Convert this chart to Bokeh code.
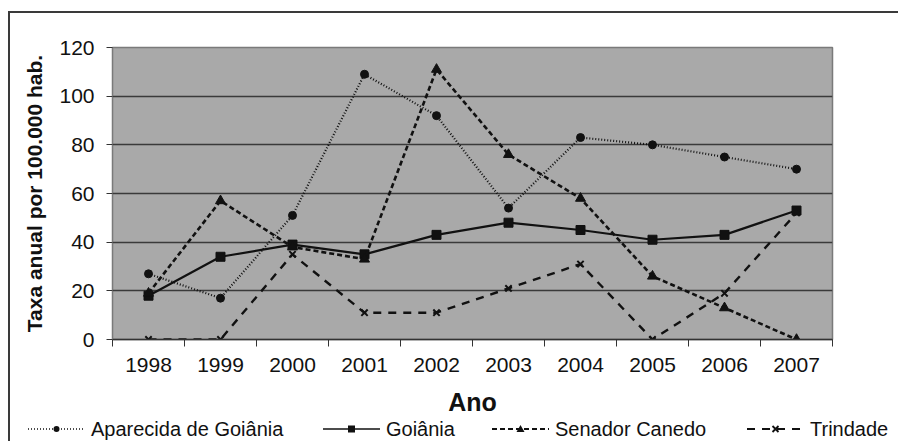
from bokeh.plotting import figure
from bokeh.layouts import column
from bokeh.models import (FactorRange, Range1d, LinearAxis, CategoricalAxis,
                          FixedTicker, Div)
from bokeh.embed import file_html
from bokeh.resources import INLINE

# Annual rate per 100,000 inhabitants, by municipality
years = ["1998", "1999", "2000", "2001", "2002", "2003", "2004", "2005", "2006", "2007"]
aparecida = [27, 17, 51, 109, 92, 54, 83, 80, 75, 70]
goiania = [18, 34, 39, 35, 43, 48, 45, 41, 43, 53]
senador = [19, 57, 38, 33, 111, 76, 58, 26, 13, 0]
trindade = [0, 0, 35, 11, 11, 21, 31, 0, 19, 52]
y_ticks = [0, 20, 40, 60, 80, 100, 120]

FONT = "Liberation Sans"
INK = "#111111"

p = figure(
    width=888, height=406,
    x_range=FactorRange(*years), y_range=Range1d(0, 120),
    x_axis_location=None,
    output_backend="svg", toolbar_location=None,
    min_border_left=102, min_border_right=66, min_border_top=34, min_border_bottom=80,
    background_fill_color="#a9a9a9", border_fill_color="white",
    outline_line_color="#7a7a7a", outline_line_width=1.5,
    margin=0,
)
p.xgrid.visible = False

# y axis
p.yaxis.ticker = FixedTicker(ticks=y_ticks)
p.yaxis.axis_label = "Taxa anual por 100.000 hab."
p.yaxis.axis_label_text_font = FONT
p.yaxis.axis_label_text_font_style = "bold"
p.yaxis.axis_label_text_font_size = "21px"
p.yaxis.axis_label_text_color = INK
p.yaxis.axis_label_standoff = 10
p.yaxis.major_label_text_font = FONT
p.yaxis.major_label_text_font_size = "21px"
p.yaxis.major_label_text_color = INK
p.yaxis.major_label_standoff = 12
p.yaxis.major_tick_in = 0
p.yaxis.major_tick_out = 6
p.yaxis.major_tick_line_color = "#333333"
p.yaxis.minor_tick_line_color = None
p.yaxis.axis_line_color = "#7a7a7a"

p.ygrid.grid_line_color = "#3a3a3a"
p.ygrid.grid_line_width = 1.5

# tick marks on the boundaries between year categories (synthetic coordinates)
tick_axis = LinearAxis(
    ticker=FixedTicker(ticks=list(range(len(years) + 1))),
    major_tick_in=0, major_tick_out=7, minor_tick_line_color=None,
    major_tick_line_color="#333333", axis_line_color="#333333", axis_line_width=1.5,
    major_label_text_font_size="0px", major_label_standoff=0,
)
p.add_layout(tick_axis, "below")

year_axis = CategoricalAxis(
    major_tick_in=0, major_tick_out=0, axis_line_color=None,
    major_label_text_font=FONT, major_label_text_font_size="21px",
    major_label_text_color=INK, major_label_standoff=11,
    axis_label="Ano", axis_label_text_font=FONT, axis_label_text_font_size="25px",
    axis_label_text_font_style="bold", axis_label_text_color=INK, axis_label_standoff=13,
)
p.add_layout(year_axis, "below")

series = [
    ("Aparecida de Goiânia", aparecida, "1 2", 2.2, "circle", 8),
    ("Goiânia", goiania, "solid", 2.2, "square", 9),
    ("Senador Canedo", senador, "5 3", 2.6, "triangle", 10),
    ("Trindade", trindade, "8 7", 2.4, "x", 9),
]

for name, vals, dash, lw, marker, size in series:
    p.line(years, vals, line_color=INK, line_width=lw, line_dash=dash)
    p.scatter(years, vals, marker=marker, size=size,
              fill_color=INK, line_color=INK, line_width=2 if marker == "x" else 1)

# legend strip under the chart: one key (line + marker) and name per series
legend_x = [18, 313, 482, 737]
KEY_W = 57
KEY_Y = 10


def key_marker(kind, cx, cy):
    if kind == "circle":
        return f'<circle cx="{cx}" cy="{cy}" r="3" fill="{INK}"/>'
    if kind == "square":
        return f'<rect x="{cx - 3.5}" y="{cy - 3.5}" width="7" height="7" fill="{INK}"/>'
    if kind == "triangle":
        return (f'<polygon points="{cx},{cy - 4} {cx - 4},{cy + 3} {cx + 4},{cy + 3}" '
                f'fill="{INK}"/>')
    return (f'<path d="M{cx - 3},{cy - 3} L{cx + 3},{cy + 3} M{cx - 3},{cy + 3} '
            f'L{cx + 3},{cy - 3}" stroke="{INK}" stroke-width="1.8"/>')


parts = []
for (name, vals, dash, lw, marker, size), x0 in zip(series, legend_x):
    x1 = x0 + KEY_W
    dash_attr = "" if dash == "solid" else f' stroke-dasharray="{dash}"'
    parts.append(f'<line x1="{x0}" y1="{KEY_Y}" x2="{x1}" y2="{KEY_Y}" stroke="{INK}" '
                 f'stroke-width="{lw - 0.6}"{dash_attr}/>')
    parts.append(key_marker(marker, (x0 + x1) / 2, KEY_Y))
    parts.append(f'<text x="{x1 + 6}" y="{KEY_Y}" dominant-baseline="central" '
                 f'font-family="{FONT}" font-size="20px" fill="{INK}">{name}</text>')

legend_svg = ('<svg xmlns="http://www.w3.org/2000/svg" width="888" height="22" '
              'style="display:block;overflow:visible">' + "".join(parts) + "</svg>")
legend_strip = Div(text=legend_svg, width=888, height=22, margin=0,
                   styles={"overflow": "visible"})

chart = column(
    p, legend_strip, spacing=0, margin=(11, 0, 0, 8),
    styles={"border-top": "2px solid #3a3a3a", "border-left": "2px solid #3a3a3a"},
)

open("out.html", "w").write(file_html(chart, INLINE))
